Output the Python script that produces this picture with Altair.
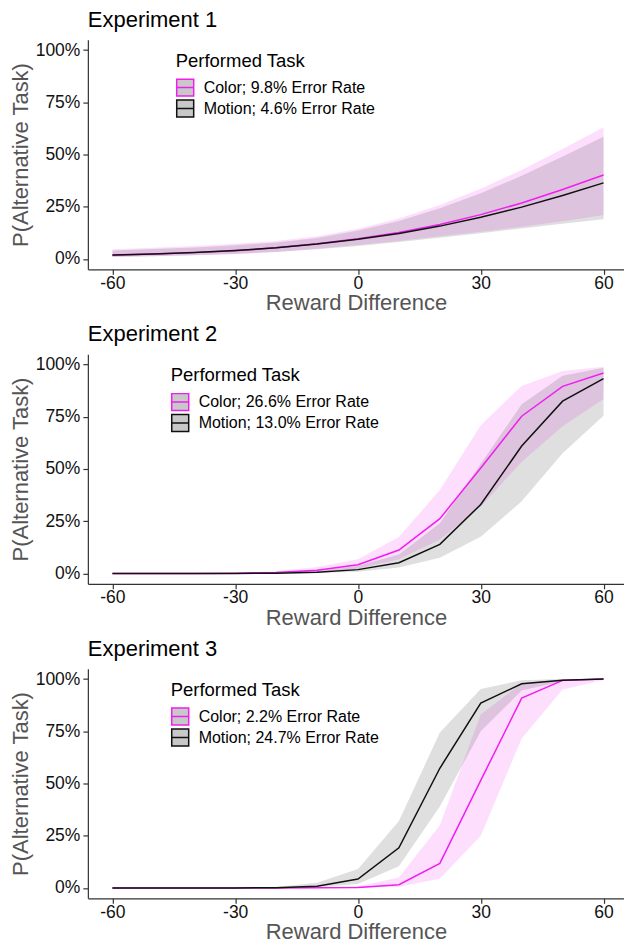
import altair as alt
import pandas as pd

# Reward difference at which each curve is evaluated
reward = [-60, -50, -40, -30, -20, -10, 0, 10, 20, 30, 40, 50, 60]

panel_titles = ["Experiment 1", "Experiment 2", "Experiment 3"]
color_labels = ["Color; 9.8% Error Rate", "Color; 26.6% Error Rate", "Color; 2.2% Error Rate"]
motion_labels = ["Motion; 4.6% Error Rate", "Motion; 13.0% Error Rate", "Motion; 24.7% Error Rate"]

# Experiment 1 (percent choosing the alternative task, with ribbon bounds)
e1_color_mean = [1.8, 2.3, 3.0, 3.9, 5.3, 7.2, 9.6, 12.6, 16.5, 21.2, 26.8, 33.2, 40.2]
e1_color_lo = [1.0, 1.3, 1.8, 2.4, 3.3, 4.8, 6.6, 8.6, 10.8, 13.0, 15.4, 18.0, 21.0]
e1_color_hi = [4.6, 5.3, 6.2, 7.2, 8.6, 10.8, 14.4, 19.4, 25.8, 33.6, 42.6, 52.6, 63.0]
e1_motion_mean = [1.9, 2.4, 3.1, 4.0, 5.3, 7.1, 9.4, 12.2, 15.7, 19.9, 24.8, 30.4, 36.4]
e1_motion_lo = [0.9, 1.3, 1.8, 2.4, 3.3, 4.6, 6.2, 8.1, 10.1, 12.3, 14.6, 16.8, 19.0]
e1_motion_hi = [4.0, 4.7, 5.5, 6.5, 7.9, 10.0, 13.6, 18.2, 24.2, 31.4, 39.8, 49.0, 58.5]

# Experiment 2
e2_color_mean = [0.0, 0.0, 0.0, 0.1, 0.4, 1.5, 4.1, 11.2, 26.2, 50.5, 75.3, 89.6, 96.0]
e2_color_lo = [0.0, 0.0, 0.0, 0.0, 0.1, 0.6, 2.2, 6.8, 16.2, 32.0, 53.5, 70.5, 83.5]
e2_color_hi = [0.0, 0.0, 0.1, 0.3, 1.0, 3.0, 6.8, 17.4, 40.0, 71.0, 89.8, 97.0, 99.0]
e2_motion_mean = [0.0, 0.0, 0.0, 0.0, 0.1, 0.5, 1.8, 5.1, 13.9, 33.0, 61.0, 82.5, 93.3]
e2_motion_lo = [0.0, 0.0, 0.0, 0.0, 0.0, 0.2, 0.8, 2.8, 7.5, 17.5, 34.5, 57.5, 75.5]
e2_motion_hi = [0.0, 0.0, 0.0, 0.1, 0.3, 1.2, 3.6, 9.0, 24.0, 52.5, 81.0, 94.7, 98.5]

# Experiment 3
e3_color_mean = [0.0, 0.0, 0.0, 0.0, 0.0, 0.05, 0.2, 1.5, 11.7, 51.5, 90.9, 99.4, 100.0]
e3_color_lo = [0.0, 0.0, 0.0, 0.0, 0.0, 0.0, 0.05, 0.5, 4.4, 25.0, 71.5, 95.0, 99.6]
e3_color_hi = [0.0, 0.0, 0.0, 0.0, 0.0, 0.2, 0.8, 5.0, 30.0, 83.0, 98.0, 99.9, 100.0]
e3_motion_mean = [0.0, 0.0, 0.0, 0.0, 0.1, 0.8, 4.2, 19.2, 57.3, 88.5, 97.8, 99.5, 100.0]
e3_motion_lo = [0.0, 0.0, 0.0, 0.0, 0.02, 0.3, 1.8, 10.4, 39.0, 75.0, 94.5, 99.0, 99.8]
e3_motion_hi = [0.0, 0.0, 0.0, 0.05, 0.4, 2.4, 9.1, 32.0, 74.4, 95.3, 99.5, 100.0, 100.0]

series = [
    (e1_color_mean, e1_color_lo, e1_color_hi, e1_motion_mean, e1_motion_lo, e1_motion_hi),
    (e2_color_mean, e2_color_lo, e2_color_hi, e2_motion_mean, e2_motion_lo, e2_motion_hi),
    (e3_color_mean, e3_color_lo, e3_color_hi, e3_motion_mean, e3_motion_lo, e3_motion_hi),
]
legend_x = [88, 83, 83]

MAGENTA = "#f01ef0"
INK = "#111111"
FONT = "Liberation Sans"
KEY_PATH = "M-1,-1H1V1H-1Z M-1,0H1"


def build_frame(values, color_label, motion_label):
    cm, cl, ch, mm, ml, mh = values
    rows = []
    for task, mean, lo, hi in ((color_label, cm, cl, ch), (motion_label, mm, ml, mh)):
        for r, m, l, h in zip(reward, mean, lo, hi):
            rows.append({"reward": r, "task": task, "mean": m, "lo": l, "hi": h})
    return pd.DataFrame(rows)


def panel(i):
    c_lab, m_lab = color_labels[i], motion_labels[i]
    df = build_frame(series[i], c_lab, m_lab)

    x = alt.X(
        "reward:Q",
        scale=alt.Scale(domain=[-66, 65], nice=False, zero=False),
        axis=alt.Axis(values=[-60, -30, 0, 30, 60], labelExpr="'' + datum.value",
                      title="Reward Difference", labelPadding=0, titlePadding=1),
    )
    y_scale = alt.Scale(domain=[-5, 105], nice=False, zero=False)
    y_axis = alt.Axis(values=[0, 25, 50, 75, 100], labelExpr="datum.value + '%'",
                      title="P(Alternative Task)")

    base = alt.Chart(df)
    band_color = base.transform_filter(alt.datum.task == c_lab).mark_area(
        color=MAGENTA, opacity=0.14
    ).encode(x=x, y=alt.Y("lo:Q", scale=y_scale, axis=y_axis), y2="hi:Q")
    band_motion = base.transform_filter(alt.datum.task == m_lab).mark_area(
        color="#000000", opacity=0.125
    ).encode(x=x, y=alt.Y("lo:Q", scale=y_scale, axis=y_axis), y2="hi:Q")

    lines = base.mark_line(strokeWidth=1.5).encode(
        x=x,
        y=alt.Y("mean:Q", scale=y_scale, axis=y_axis),
        stroke=alt.Stroke(
            "task:N",
            scale=alt.Scale(domain=[c_lab, m_lab], range=[MAGENTA, INK]),
            legend=alt.Legend(
                title="Performed Task",
                orient="none",
                legendX=legend_x[i],
                legendY=12,
                symbolType=KEY_PATH,
                symbolSize=289,
                symbolFillColor="#c8c8c8",
                symbolStrokeWidth=1.5,
                symbolOpacity=1,
                titleFont=FONT,
                titleFontSize=18.5,
                titleFontWeight="normal",
                titleColor="black",
                titlePadding=8,
                labelFont=FONT,
                labelFontSize=16,
                labelColor="black",
                labelOffset=9,
                labelLimit=400,
                rowPadding=-8,
            ),
        ),
    )

    return alt.layer(band_color, band_motion, lines).properties(
        width=537,
        height=230,
        title=alt.TitleParams(
            panel_titles[i], anchor="start", frame="group", fontSize=22,
            fontWeight="normal", font=FONT, color="black", offset=8,
        ),
    )


chart = (
    alt.vconcat(panel(0), panel(1), panel(2), spacing=9)
    .resolve_scale(stroke="independent")
    .resolve_legend(stroke="independent")
    .properties(padding={"left": 9, "top": 8, "right": 0, "bottom": 0}, background="white")
    .configure_view(stroke=None)
    .configure_axis(
        grid=False,
        domainColor="#333333",
        domainWidth=1.2,
        tickColor="#333333",
        tickWidth=1.2,
        tickSize=5,
        labelFont=FONT,
        labelFontSize=17.5,
        labelColor="#111111",
        labelPadding=3,
        titleFont=FONT,
        titleFontSize=22,
        titleFontWeight="normal",
        titleColor="#555555",
        titlePadding=3,
    )
)

chart.save("out.html", embed_options={"renderer": "svg", "actions": False})
